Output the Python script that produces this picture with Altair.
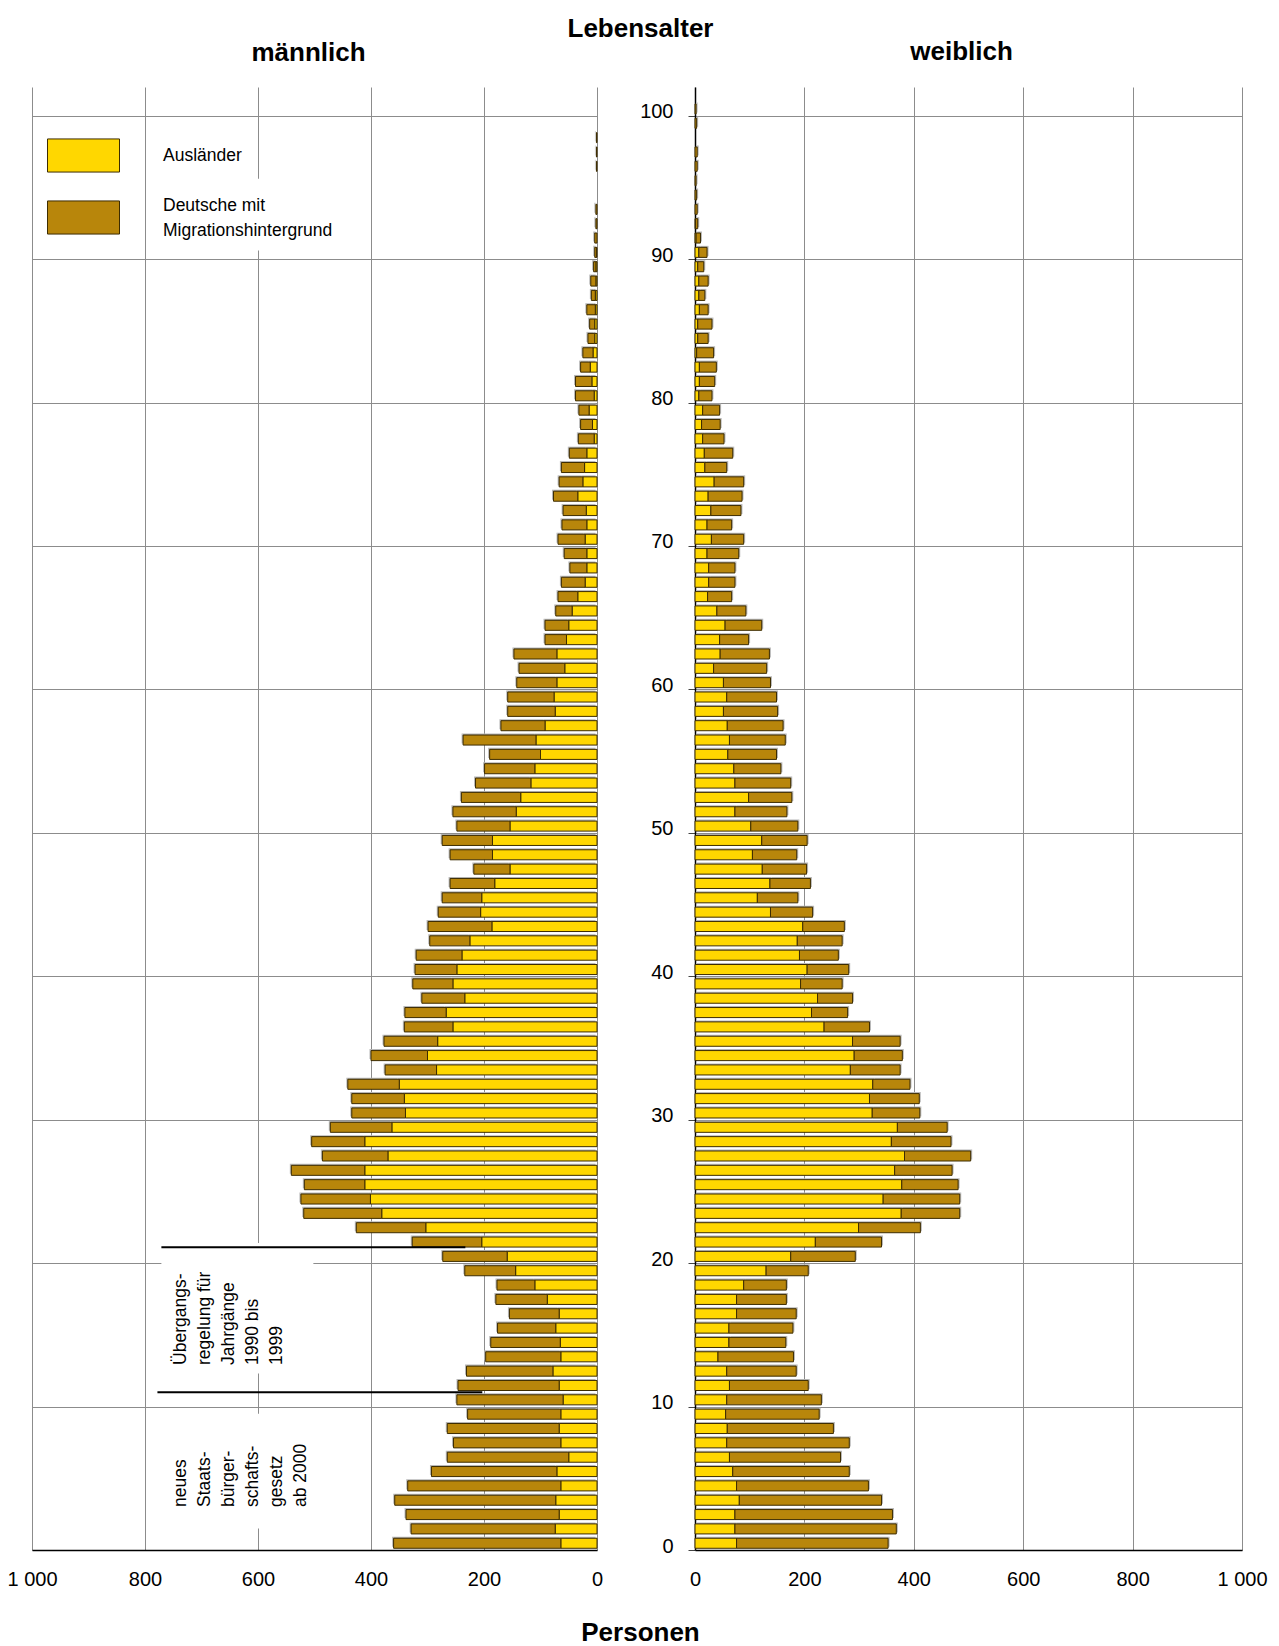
import altair as alt
import pandas as pd

# ---------------- data ----------------
alter = list(range(101))

gruppen = ["Ausländer", "Deutsche mit Migrationshintergrund"]
farben = ["#FFD700", "#B8860B"]

maenner_auslaender = [
    64, 74, 67, 73, 64, 71, 50, 64, 67, 64,
    60, 67, 78, 64, 65, 73, 67, 88, 110, 144,
    159, 204, 303, 381, 401, 411, 411, 370, 411, 363,
    339, 341, 350, 284, 300, 282, 255, 267, 234, 255,
    248, 239, 225, 186, 206, 204, 181, 154, 185, 185,
    154, 143, 135, 117, 110, 100, 108, 92, 74, 76,
    71, 57, 71, 54, 50, 44, 34, 21, 18, 18,
    21, 18, 19, 34, 25, 22, 18, 5, 8, 14,
    5, 9, 12, 7, 4, 4, 3, 3, 2, 2,
    1, 0, 0, 0, 0, 0, 0, 0, 0, 0, 0,
]
maenner_deutsche_mh = [
    296, 255, 271, 285, 271, 222, 215, 190, 198, 165,
    188, 179, 153, 133, 123, 103, 88, 91, 67, 90,
    114, 123, 123, 138, 123, 107, 130, 116, 94, 109,
    95, 93, 91, 91, 100, 95, 86, 73, 76, 71,
    74, 81, 71, 113, 75, 70, 79, 64, 75, 89,
    94, 112, 105, 98, 89, 90, 129, 78, 84, 82,
    71, 81, 76, 38, 42, 29, 35, 42, 30, 40,
    48, 44, 41, 43, 42, 41, 31, 28, 21, 18,
    33, 29, 17, 18, 12, 9, 15, 7, 9, 4,
    3, 4, 2, 2, 0, 0, 1, 1, 1, 0, 0,
]
frauen_auslaender = [
    76, 73, 73, 81, 76, 69, 63, 58, 59, 56,
    58, 63, 58, 42, 62, 62, 76, 76, 89, 130,
    175, 220, 299, 377, 344, 378, 365, 383, 359, 370,
    324, 319, 325, 284, 291, 288, 236, 213, 224, 193,
    205, 191, 187, 197, 138, 114, 137, 123, 105, 122,
    102, 73, 98, 73, 71, 60, 63, 59, 52, 58,
    52, 34, 46, 45, 55, 40, 23, 25, 25, 22,
    30, 22, 29, 24, 35, 18, 17, 14, 12, 14,
    7, 8, 8, 3, 5, 5, 8, 7, 7, 5,
    7, 2, 1, 0, 0, 0, 0, 0, 0, 0, 0,
]
frauen_deutsche_mh = [
    277, 295, 288, 260, 241, 213, 203, 224, 194, 171,
    173, 144, 127, 138, 104, 117, 109, 91, 78, 77,
    118, 121, 113, 107, 140, 103, 105, 121, 109, 91,
    87, 91, 68, 91, 88, 87, 83, 66, 64, 76,
    76, 71, 82, 76, 77, 74, 74, 81, 81, 83,
    86, 95, 79, 102, 86, 89, 102, 102, 99, 91,
    86, 97, 90, 53, 67, 53, 44, 48, 48, 58,
    59, 45, 55, 62, 54, 40, 52, 39, 34, 31,
    24, 28, 31, 31, 19, 26, 16, 11, 17, 11,
    15, 8, 4, 4, 3, 2, 4, 4, 0, 3, 2,
]

x_ticks = [0, 200, 400, 600, 800, 1000]
y_ticks = list(range(0, 101, 10))

# annotations (left panel)
anno_texte = [
    ["Übergangs-", "regelung für", "Jahrgänge", "1990 bis", "1999"],
    ["neues", "Staats-", "bürger-", "schafts-", "gesetz", "ab 2000"],
]
anno_x = [752, 752]
anno_alter = [12.9, 3.0]

linie_alter = [21.1, 11.0]
linie_von = [771, 778]
linie_bis = [233, 203]

# white boxes that interrupt the grid behind annotation / legend texts
box_x_von = [771, 771, 782]
box_x_bis = [502, 472, 454]
box_alter_von = [12.3, 1.5, 90.6]
box_alter_bis = [21.4, 9.5, 95.6]

# ---------------- build tables ----------------
rows = []
for sex, aus, deu in [("m", maenner_auslaender, maenner_deutsche_mh),
                      ("w", frauen_auslaender, frauen_deutsche_mh)]:
    for a, v1, v2 in zip(alter, aus, deu):
        rows.append({"geschlecht": sex, "alter": a, "gruppe": gruppen[0], "rang": 0, "anzahl": v1})
        rows.append({"geschlecht": sex, "alter": a, "gruppe": gruppen[1], "rang": 1, "anzahl": v2})
df = pd.DataFrame(rows)

anno_df = pd.DataFrame({"text": anno_texte, "x": anno_x, "alter": anno_alter})
linie_df = pd.DataFrame({"alter": linie_alter, "von": linie_von, "bis": linie_bis})
box_df = pd.DataFrame({"x_von": box_x_von, "x_bis": box_x_bis,
                       "a_von": box_alter_von, "a_bis": box_alter_bis})

FONT = "Liberation Sans"
GRID = "#8c8c8c"
TICK_FS = 20
TITLE_FS = 26
BAR_STROKE = "#3d2c00"
SHADOW = "#b8b8b8"

y_scale = alt.Scale(domain=[0, 102], nice=False, zero=False)
left_x_scale = alt.Scale(domain=[0, 1000], reverse=True, nice=False)
right_x_scale = alt.Scale(domain=[0, 1000], nice=False)
color_scale = alt.Scale(domain=gruppen, range=farben)

title_style = dict(titleFont=FONT, titleFontSize=TITLE_FS, titleFontWeight="bold",
                   titleColor="black", titleAngle=0, titleAlign="center",
                   titleBaseline="alphabetic")


def x_axis(**kw):
    return alt.Axis(values=x_ticks, format=",d",
                    labelExpr="replace(datum.label, ',', ' ')",
                    labelFlush=False, labelOverlap=False,
                    grid=True, gridColor=GRID, gridWidth=1,
                    ticks=False, tickSize=0,
                    domain=True, domainColor="black", domainWidth=1.5,
                    labelFont=FONT, labelFontSize=TICK_FS, labelColor="black",
                    labelPadding=19, **kw)


left_xaxis = x_axis(title=None)
left_yaxis = alt.Axis(values=y_ticks, grid=True, gridColor=GRID, labels=False, ticks=False,
                      domain=False, title="männlich", titleX=276, titleY=-27, **title_style)

right_xaxis = x_axis(title="Personen", titleX=-55, titleY=90, **title_style)
right_yaxis = alt.Axis(values=y_ticks, grid=True, gridColor=GRID, labels=True, ticks=True,
                       tickSize=7, tickColor="#444444", domain=True, domainColor="black",
                       domainWidth=1.5, labelPadding=15, labelFont=FONT,
                       labelFontSize=TICK_FS, labelColor="black", labelOffset=-4,
                       labelFlush=False, labelOverlap=False,
                       title="Lebensalter", titleX=-55, titleY=-51, **title_style)


def base(sex):
    return (
        alt.Chart(df)
        .transform_filter(alt.datum.geschlecht == sex)
        .transform_stack(stack="anzahl", groupby=["alter"], as_=["x0", "x1"],
                         sort=[alt.SortField("rang", order="ascending")])
        .transform_filter(alt.datum.anzahl > 0)
        .transform_calculate(y_unten="datum.alter + 0.12", y_oben="datum.alter + 0.82")
    )


def pos(x_scale, xaxis, yaxis):
    return dict(
        x=alt.X("x0:Q", scale=x_scale, axis=xaxis),
        x2="x1:Q",
        y=alt.Y("y_unten:Q", scale=y_scale, axis=yaxis),
        y2="y_oben:Q",
    )


def bar_layer(sex, x_scale, xaxis, yaxis, legend):
    return base(sex).mark_bar(stroke=BAR_STROKE, strokeWidth=1).encode(
        color=alt.Color("gruppe:N", scale=color_scale, legend=legend),
        **pos(x_scale, xaxis, yaxis),
    )


def shadow_layer(sex, x_scale, xaxis, yaxis, dx):
    return base(sex).mark_bar(color=SHADOW, xOffset=dx, x2Offset=dx,
                              yOffset=-1.5, y2Offset=-1.5).encode(
        **pos(x_scale, xaxis, yaxis),
    )


legend = alt.Legend(
    title=None, orient="none", legendX=15, legendY=32, direction="vertical",
    symbolType="M-1,-0.46H1V0.46H-1Z", symbolSize=5184,
    symbolStrokeColor=BAR_STROKE, symbolStrokeWidth=1, symbolOpacity=1,
    labelFont=FONT, labelFontSize=17.5, labelColor="black", labelOffset=43,
    labelLimit=400, rowPadding=6,
    labelBaseline={"expr": "datum.value == 'Ausländer' ? 'middle' : 'line-bottom'"},
    labelExpr="datum.label == 'Ausländer' ? datum.label : ['Deutsche mit', 'Migrationshintergrund']",
)

left_boxes = alt.Chart(box_df).mark_rect(color="white").encode(
    x=alt.X("x_von:Q", scale=left_x_scale, axis=left_xaxis),
    x2="x_bis:Q",
    y=alt.Y("a_von:Q", scale=y_scale, axis=left_yaxis),
    y2="a_bis:Q",
)

left_rules = alt.Chart(linie_df).mark_rule(color="black", strokeWidth=2).encode(
    x=alt.X("von:Q", scale=left_x_scale, axis=left_xaxis),
    x2="bis:Q",
    y=alt.Y("alter:Q", scale=y_scale, axis=left_yaxis),
)

left_text = alt.Chart(anno_df).mark_text(
    angle=270, align="left", baseline="top", font=FONT, fontSize=17.5,
    lineHeight=24, color="black",
).encode(
    x=alt.X("x:Q", scale=left_x_scale, axis=left_xaxis),
    y=alt.Y("alter:Q", scale=y_scale, axis=left_yaxis),
    text="text",
)

left = alt.layer(
    left_boxes,
    shadow_layer("m", left_x_scale, left_xaxis, left_yaxis, -1.5),
    bar_layer("m", left_x_scale, left_xaxis, left_yaxis, legend),
    left_rules,
    left_text,
).properties(width=565, height=1463)

right_main = alt.layer(
    shadow_layer("w", right_x_scale, right_xaxis, right_yaxis, 1.5),
    bar_layer("w", right_x_scale, right_xaxis, right_yaxis, None),
)

right_title_layer = alt.Chart(pd.DataFrame({"alter": [0]})).mark_point(opacity=0).encode(
    y=alt.Y("alter:Q", scale=y_scale,
            axis=alt.Axis(orient="right", grid=False, labels=False, ticks=False,
                          domain=False, title="weiblich", titleX=-281, titleY=-28,
                          **title_style)),
)

right = (
    alt.layer(right_main, right_title_layer)
    .resolve_axis(y="independent")
    .properties(width=547, height=1463)
)

chart = (
    alt.hconcat(left, right, spacing=98, bounds="flush")
    .resolve_legend(color="independent")
    .properties(padding={"left": -2, "top": 7, "right": 0, "bottom": 0})
    .configure(style={"guide-label": {"lineHeight": 25}})
    .configure_view(stroke=None)
)

chart.save("out.html", embed_options={"renderer": "svg", "actions": False})
